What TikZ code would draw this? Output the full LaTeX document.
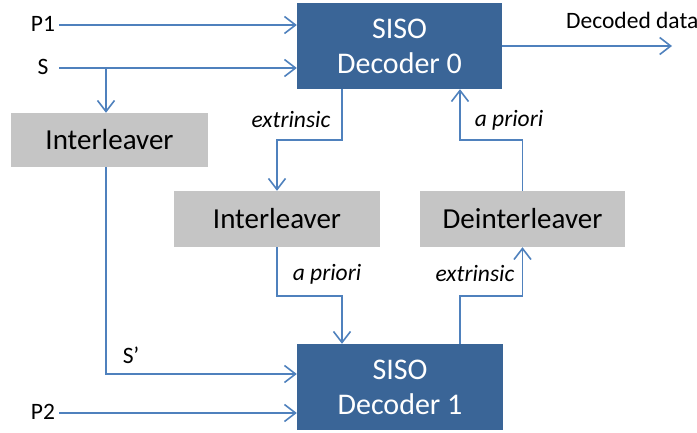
\documentclass[tikz,border=0pt]{standalone}
\usepackage{fontspec}
\setmainfont{Carlito}
\usetikzlibrary{arrows.meta}
\definecolor{decblue}{RGB}{58,101,151}
\definecolor{arrblue}{RGB}{79,129,189}
\definecolor{boxgray}{RGB}{197,197,197}
\tikzset{
  decbox/.style={rectangle, fill=decblue, text=white, font=\fontsize{30}{35}\selectfont, align=center, inner sep=0pt},
  graybox/.style={rectangle, fill=boxgray, text=black, font=\fontsize{29}{33}\selectfont, inner sep=0pt},
  lbl/.style={font=\fontsize{23.5}{27}\selectfont, inner sep=1pt},
  ilbl/.style={font=\fontsize{23.5}{27}\selectfont\itshape, inner sep=1pt},
  arr/.style={draw=arrblue, line width=1.6pt, -{Straight Barb[length=11pt,width=17pt,line width=1.6pt]}},
  ln/.style={draw=arrblue, line width=1.6pt}
}
\begin{document}
\begin{tikzpicture}[x=1pt,y=1pt]
\useasboundingbox (0,0) rectangle (697,-433);
% boxes
\node[decbox, minimum width=205pt, minimum height=86pt] (dec0) at (399.5,-46) {SISO\\Decoder 0};
\node[decbox, minimum width=206pt, minimum height=86pt] (dec1) at (400,-387) {SISO\\Decoder 1};
\node[graybox, minimum width=197pt, minimum height=54pt] (il0) at (109.5,-140) {Interleaver};
\node[graybox, minimum width=206pt, minimum height=56pt] (il1) at (277,-219) {Interleaver};
\node[graybox, minimum width=205pt, minimum height=56pt] (dil) at (522.5,-219) {Deinterleaver};
% input labels
\node[lbl] (p1) at (43,-24) {P1};
\node[lbl] (s) at (43,-67) {S};
\node[lbl] (p2) at (43,-412) {P2};
\node[lbl, anchor=west] (dd) at (565,-20) {Decoded data};
\node[lbl] (sp) at (131,-355) {S’};
\node[ilbl] (ext0) at (291,-120) {extrinsic};
\node[ilbl] (apr0) at (509,-120) {a priori};
\node[ilbl] (apr1) at (327,-274) {a priori};
\node[ilbl] (ext1) at (475,-274) {extrinsic};
\coordinate (p1s) at (59,-25);
\coordinate (ss) at (59,-68);
\coordinate (p2s) at (59,-413);
\coordinate (sb) at (106,-68);
\coordinate (out) at (672,-46);
% connectors
\draw[arr] (p1s) -- (p1s -| dec0.west);
\draw[arr] (ss) -- (ss -| dec0.west);
\draw[arr] (sb) -- (sb |- il0.north);
\draw[arr] (sb |- il0.south) |- ([yshift=13pt]dec1.west);
\draw[arr] (p2s) -- (p2s -| dec1.west);
\draw[arr] (dec0.east) -- (out);
\draw[arr] ([xshift=-57.5pt]dec0.south) -- ++(0,-51) -| (il1.north);
\draw[arr] (dil.north) -- ++(0,51) -| ([xshift=60.5pt]dec0.south);
\draw[arr] (il1.south) -- ++(0,-49) -| ([xshift=-58pt]dec1.north);
\draw[arr] ([xshift=60pt]dec1.north) -- ++(0,48) -| (dil.south);
\end{tikzpicture}
\end{document}
